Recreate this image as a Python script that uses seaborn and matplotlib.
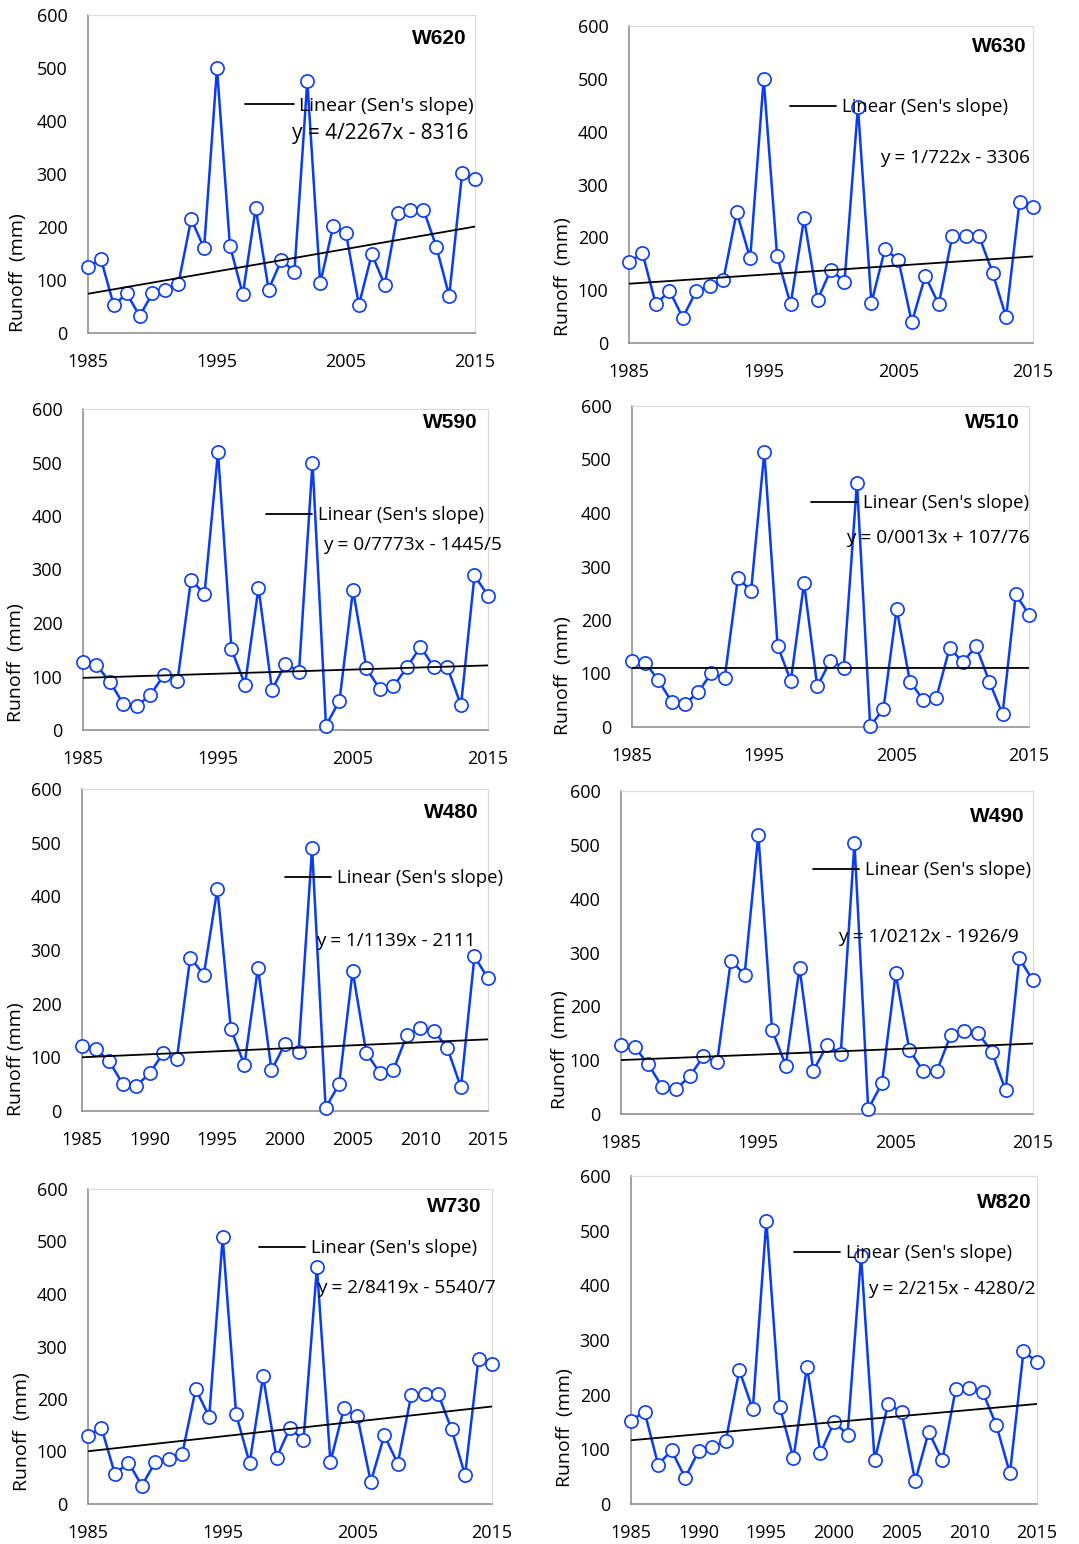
import numpy as np
import pandas as pd
import matplotlib
matplotlib.use("Agg")
import matplotlib.pyplot as plt
from matplotlib.lines import Line2D
import seaborn as sns

sns.set_style("white")
plt.rcParams["font.family"] = ["Open Sans", "DejaVu Sans"]
plt.rcParams["text.color"] = "black"
plt.rcParams["axes.labelcolor"] = "black"

# ---------------- data ----------------
years = list(range(1985, 2016))

w620 = [124, 140, 52, 75, 32, 75, 82, 92, 215, 160, 500, 165, 73, 236, 82, 138,
        115, 475, 94, 201, 188, 53, 149, 91, 226, 233, 233, 163, 70, 301, 291]
w630 = [153, 170, 73, 99, 48, 99, 107, 119, 248, 160, 500, 164, 73, 236, 82, 139,
        115, 447, 76, 177, 158, 39, 127, 73, 202, 202, 202, 133, 49, 267, 258]
w590 = [127, 121, 90, 48, 45, 66, 103, 92, 281, 254, 519, 151, 85, 266, 75, 124,
        109, 500, 8, 55, 262, 115, 76, 82, 117, 156, 117, 117, 46, 289, 251]
w510 = [124, 120, 87, 47, 43, 65, 101, 91, 278, 255, 514, 152, 86, 269, 76, 124,
        111, 457, 1, 34, 221, 85, 51, 55, 148, 121, 151, 85, 24, 248, 210]
w480 = [121, 116, 93, 51, 47, 70, 108, 96, 286, 254, 414, 153, 86, 267, 76, 125,
        110, 490, 6, 50, 261, 109, 71, 76, 141, 154, 150, 117, 44, 288, 247]
w490 = [129, 124, 92, 50, 46, 70, 107, 96, 285, 259, 519, 156, 90, 272, 80, 128,
        112, 504, 9, 57, 261, 119, 80, 80, 146, 155, 150, 116, 44, 289, 248]
w730 = [130, 145, 57, 79, 35, 80, 86, 96, 219, 166, 508, 171, 78, 243, 88, 145,
        121, 451, 80, 182, 167, 42, 131, 77, 207, 210, 210, 142, 55, 277, 267]
w820 = [152, 169, 72, 98, 48, 97, 105, 115, 245, 173, 518, 177, 84, 251, 93, 150,
        127, 454, 80, 183, 168, 42, 132, 80, 211, 213, 204, 144, 56, 279, 260]

stations = ["W620", "W630", "W590", "W510", "W480", "W490", "W730", "W820"]
series = [w620, w630, w590, w510, w480, w490, w730, w820]
sen_slopes = [4.2267, 1.722, 0.7773, 0.0013, 1.1139, 1.0212, 2.8419, 2.215]
sen_intercepts = [-8316, -3306, -1445.5, 107.76, -2111, -1926.9, -5540.7, -4280.2]
equations = ["y = 4/2267x - 8316", "y = 1/722x - 3306", "y = 0/7773x - 1445/5",
             "y = 0/0013x + 107/76", "y = 1/1139x - 2111", "y = 1/0212x - 1926/9",
             "y = 2/8419x - 5540/7", "y = 2/215x - 4280/2"]
ylabels = ["Runoff  (mm)", "Runoff  (mm)", "Runoff  (mm)", "Runoff  (mm)",
           "Runoff (mm)", "Runoff  (mm)", "Runoff  (mm)", "Runoff  (mm)"]
xticks_10 = [1985, 1995, 2005, 2015]
xticks_5 = [1985, 1990, 1995, 2000, 2005, 2010, 2015]
xtick_sets = [xticks_10, xticks_10, xticks_10, xticks_10, xticks_5, xticks_10, xticks_10, xticks_5]
yticks = [0, 100, 200, 300, 400, 500, 600]
legend_label = "Linear (Sen's slope)"

# ---------------- layout (pixels) ----------------
W, H = 1079, 1544
boxes = [(88, 15, 475, 333), (629, 26, 1033, 343), (83, 409, 488, 730), (632, 406, 1029, 727),
         (82, 789, 488, 1111), (621, 791, 1033, 1114), (88, 1189, 492, 1504), (631, 1176, 1037, 1504)]
title_pos = [(467, 38), (1027, 46), (478, 423), (1020, 423), (479, 812), (1025, 816), (481, 1207), (1032, 1202)]
leg_pos = [(245, 106), (790, 107), (266, 515), (811, 503), (285, 878), (813, 870), (259, 1248), (794, 1253)]
eq_pos = [(292, 133), (880, 158), (323, 545), (846, 538), (316, 941), (838, 937), (317, 1288), (868, 1289)]
lab_pos = [(18, 273), (563, 277), (16, 663), (563, 676), (16, 1059), (560, 1050), (22, 1432), (565, 1428)]
leg_fs = [14, 13.3, 13.3, 13.3, 13.3, 13.3, 13.3, 13.3]
eq_fs = [15, 13.7, 13.7, 13.7, 13.6, 13.8, 13.7, 13.7]

BLUE = "#0A3CF0"
AXGRAY = "#878787"
FS = 13

fig = plt.figure(figsize=(W / 100, H / 100), dpi=100)

for i, name in enumerate(stations):
    l, t, r, b = boxes[i]
    ax = fig.add_axes([l / W, 1 - b / H, (r - l) / W, (b - t) / H])
    fx = lambda px: (px - l) / (r - l)
    fy = lambda py: (b - py) / (b - t)

    df = pd.DataFrame({"Year": years, "Runoff": series[i]})
    sns.lineplot(data=df, x="Year", y="Runoff", ax=ax, color=BLUE, lw=1.8,
                 marker="o", markersize=9.5, markerfacecolor="white",
                 markeredgecolor=BLUE, markeredgewidth=1.2, clip_on=False, zorder=3)
    trend = sen_slopes[i] * np.array(years, dtype=float) + sen_intercepts[i]
    sns.lineplot(x=years, y=trend, ax=ax, color="black", lw=1.3, zorder=4)

    ax.set_xlim(1985, 2015)
    ax.set_ylim(0, 600)
    ax.set_xticks(xtick_sets[i])
    ax.set_yticks(yticks)
    ax.set_xlabel("")
    ax.set_ylabel(ylabels[i], fontsize=14, va="center", color="black")
    ax.yaxis.set_label_coords(fx(lab_pos[i][0]), fy(lab_pos[i][1]))
    ax.tick_params(axis="both", direction="inout", length=8.6, width=1.1,
                   color=AXGRAY, labelsize=FS, labelcolor="black")
    ax.tick_params(axis="y", pad=10.5)
    ax.tick_params(axis="x", pad=10)
    for s in ["left", "bottom"]:
        ax.spines[s].set_color(AXGRAY)
        ax.spines[s].set_linewidth(1.1)
    for s in ["top", "right"]:
        ax.spines[s].set_color("#d9d9d9")
        ax.spines[s].set_linewidth(0.8)

    ax.text(fx(title_pos[i][0]), fy(title_pos[i][1]), name, transform=ax.transAxes,
            ha="right", va="center", fontsize=15, fontweight="bold", color="black",
            family=["Liberation Sans", "DejaVu Sans"])

    handle = Line2D([], [], color="black", lw=1.3)
    leg = ax.legend([handle], [legend_label], loc="center left",
                    bbox_to_anchor=(fx(leg_pos[i][0]), fy(leg_pos[i][1])),
                    frameon=False, borderpad=0, borderaxespad=0,
                    handlelength=2.5, handletextpad=0.3, fontsize=leg_fs[i],
                    labelcolor="black")
    leg.set_zorder(6)

    ax.text(fx(eq_pos[i][0]), fy(eq_pos[i][1]), equations[i], transform=ax.transAxes,
            ha="left", va="center", fontsize=eq_fs[i], color="black", zorder=6)

fig.savefig("out.png", dpi=100)
